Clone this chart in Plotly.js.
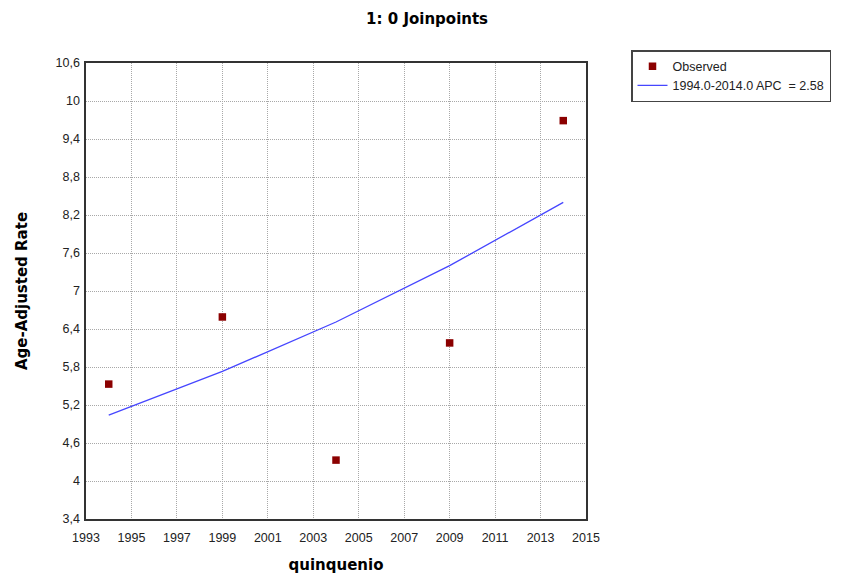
<!DOCTYPE html>
<html>
<head>
<meta charset="utf-8">
<script src="https://cdn.plot.ly/plotly-3.0.1.min.js"></script>
<style>
  body { margin: 0; background: #fff; }
  #myDiv { width: 844px; height: 579px; }
</style>
</head>
<body>
<div id="myDiv"></div>
<script>
// values
var years = [1994, 1999, 2004, 2009, 2014];
var observed = [5.53, 6.59, 4.33, 6.18, 9.69];
var fitted = [5.04, 5.73, 6.51, 7.40, 8.40];
var xTicks = [1993, 1995, 1997, 1999, 2001, 2003, 2005, 2007, 2009, 2011, 2013, 2015];
var yTicks = [3.4, 4, 4.6, 5.2, 5.8, 6.4, 7, 7.6, 8.2, 8.8, 9.4, 10, 10.6];
var yTickText = ['3,4', '4', '4,6', '5,2', '5,8', '6,4', '7', '7,6', '8,2', '8,8', '9,4', '10', '10,6'];

var trace1 = {
  x: years,
  y: observed,
  name: 'Observed',
  mode: 'markers',
  type: 'scatter',
  marker: {symbol: 'square', size: 7.5, color: '#8b0000'}
};

var trace2 = {
  x: years,
  y: fitted,
  name: '1994.0-2014.0 APC  = 2.58',
  mode: 'lines',
  type: 'scatter',
  line: {color: 'rgb(70,70,255)', width: 1.3}
};

var tickFont = {family: 'Liberation Sans, Arial, sans-serif', size: 12.5, color: '#222'};
var boldFont = {family: 'DejaVu Sans, Verdana, sans-serif', size: 15, color: '#000', weight: 'bold'};

var layout = {
  width: 844,
  height: 579,
  margin: {l: 86, r: 258, t: 63, b: 60},
  paper_bgcolor: '#fff',
  plot_bgcolor: '#fff',
  showlegend: true,
  title: {
    text: '<b>1: 0 Joinpoints</b>',
    font: {family: 'DejaVu Sans, Verdana, sans-serif', size: 15, color: '#000'},
    x: 0.506, xanchor: 'center',
    y: 0.968, yanchor: 'middle', yref: 'container'
  },
  xaxis: {
    range: [1993, 2015],
    tickvals: xTicks,
    ticktext: xTicks.map(String),
    tickfont: tickFont,
    ticks: '',
    ticklabelstandoff: 6,
    showgrid: true,
    gridcolor: '#a8a8a8',
    griddash: '1px,1px',
    gridwidth: 1,
    zeroline: false,
    showline: true,
    linecolor: '#333',
    linewidth: 1.6,
    mirror: true,
    title: {text: '<b>quinquenio</b>', font: boldFont, standoff: 16}
  },
  yaxis: {
    range: [3.4, 10.6],
    tickvals: yTicks,
    ticktext: yTickText,
    tickfont: tickFont,
    ticks: '',
    ticklabelstandoff: 2,
    showgrid: true,
    gridcolor: '#a8a8a8',
    griddash: '1px,1px',
    gridwidth: 1,
    zeroline: false,
    showline: true,
    linecolor: '#333',
    linewidth: 1.6,
    mirror: true,
    title: {text: '<b>Age-Adjusted Rate</b>', font: boldFont, standoff: 24}
  },
  legend: {
    x: 1.09, xanchor: 'left',
    y: 1.0285, yanchor: 'top',
    bgcolor: '#fff',
    bordercolor: '#444',
    borderwidth: 1.5,
    font: {family: 'Liberation Sans, Arial, sans-serif', size: 12.5, color: '#222'},
    tracegroupgap: 0,
    itemwidth: 30
  }
};

Plotly.newPlot('myDiv', [trace1, trace2], layout, {displayModeBar: false, staticPlot: true});
</script>
</body>
</html>
